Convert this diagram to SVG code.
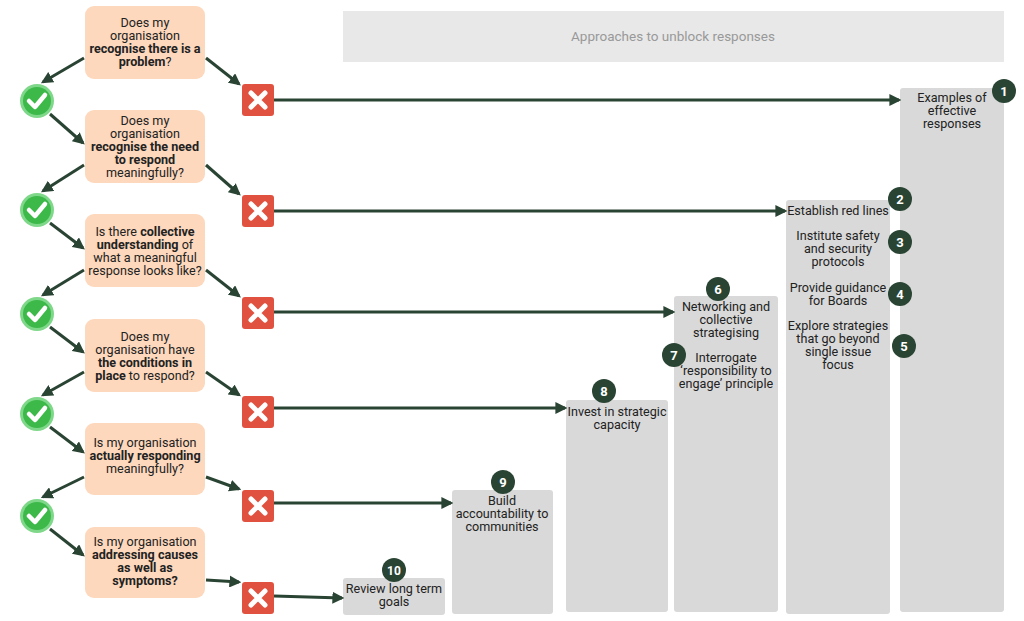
<svg xmlns="http://www.w3.org/2000/svg" width="1024" height="621" viewBox="0 0 1024 621">
<defs>
<marker id="ah" viewBox="0 0 10 10" refX="8" refY="5" markerWidth="4" markerHeight="4" orient="auto"><path d="M0,0L10,5L0,10z" fill="#2a4434"/></marker>
<g id="chk"><circle r="17" fill="#7fd88a"/><circle r="14" fill="#3cb949"/><path d="M-8,0L-2,6L8,-6" fill="none" stroke="#fff" stroke-width="4.5" stroke-linecap="round" stroke-linejoin="round"/></g>
<g id="crs"><rect x="-16" y="-16" width="32" height="32" rx="3" fill="#e0523f"/><path d="M-7,-7L7,7M7,-7L-7,7" stroke="#fff" stroke-width="5" stroke-linecap="round"/></g>
</defs>
<style>
text{font-family:Roboto,"Liberation Sans",sans-serif;font-size:12.6px;fill:#222;text-anchor:middle}
.q{fill:#fdd8bd}
.col{fill:#d9d9d9}
.b{font-weight:bold}
.bd circle{fill:#2a4434}
.bd text{fill:#fff;font-weight:bold;font-size:13px}
.c line{stroke:#2a4434;stroke-width:3;marker-end:url(#ah)}
</style>
<rect width="1024" height="621" fill="#fff"/>
<g id="header"><rect x="343" y="11" width="661" height="51" fill="#e8e8e8"/><text x="673" y="41" style="fill:#999;font-size:13.5px">Approaches to unblock responses</text></g>

<g id="col1"><rect class="col" x="900" y="88" width="104" height="524" rx="3"/><text x="952" y="102">Examples of</text><text x="952" y="115">effective</text><text x="952" y="128">responses</text></g>
<g id="col2"><rect class="col" x="786" y="200" width="104" height="414" rx="3"/><text x="838" y="215">Establish red lines</text><text x="838" y="240">Institute safety</text><text x="838" y="253">and security</text><text x="838" y="266">protocols</text><text x="838" y="292">Provide guidance</text><text x="838" y="305">for Boards</text><text x="838" y="330">Explore strategies</text><text x="838" y="343">that go beyond</text><text x="838" y="356">single issue</text><text x="838" y="369">focus</text></g>
<g id="col3"><rect class="col" x="674" y="296" width="104" height="316" rx="3"/><text x="726" y="311">Networking and</text><text x="726" y="324">collective</text><text x="726" y="337">strategising</text><text x="726" y="362">Interrogate</text><text x="726" y="375">‘responsibility to</text><text x="726" y="388">engage’ principle</text></g>
<g id="col4"><rect class="col" x="566" y="400" width="102" height="212" rx="3"/><text x="617" y="416">Invest in strategic</text><text x="617" y="429">capacity</text></g>
<g id="col5"><rect class="col" x="452" y="490" width="101" height="124" rx="3"/><text x="502" y="505">Build</text><text x="502" y="518">accountability to</text><text x="502" y="531">communities</text></g>
<g id="col6"><rect class="col" x="343" y="578" width="102" height="37" rx="3"/><text x="394" y="593">Review long term</text><text x="394" y="606">goals</text></g>

<g id="badges" class="bd">
<circle cx="1004" cy="91" r="12"/><text x="1004" y="96">1</text>
<circle cx="900" cy="199" r="12"/><text x="900" y="204">2</text>
<circle cx="900" cy="242" r="12"/><text x="900" y="247">3</text>
<circle cx="900" cy="294" r="12"/><text x="900" y="299">4</text>
<circle cx="904" cy="346" r="12"/><text x="904" y="351">5</text>
<circle cx="718" cy="289" r="12"/><text x="718" y="294">6</text>
<circle cx="674" cy="355" r="12"/><text x="674" y="360">7</text>
<circle cx="604" cy="391" r="12"/><text x="604" y="396">8</text>
<circle cx="503" cy="482" r="12"/><text x="503" y="487">9</text>
<circle cx="394" cy="570" r="12"/><text x="394" y="575" style="font-size:12px">10</text>
</g>

<g id="q1"><rect class="q" x="85" y="6" width="120" height="73" rx="9"/><text x="145" y="27">Does my</text><text x="145" y="40">organisation</text><text x="145" y="53" class="b">recognise there is a</text><text x="145" y="66"><tspan class="b">problem</tspan>?</text></g>
<g id="q2"><rect class="q" x="85" y="110" width="120" height="73" rx="9"/><text x="145" y="125">Does my</text><text x="145" y="138">organisation</text><text x="145" y="151" class="b">recognise the need</text><text x="145" y="164" class="b">to respond</text><text x="145" y="177">meaningfully?</text></g>
<g id="q3"><rect class="q" x="85" y="214" width="120" height="73" rx="9"/><text x="145" y="236">Is there <tspan class="b">collective</tspan></text><text x="145" y="249"><tspan class="b">understanding</tspan> of</text><text x="145" y="262">what a meaningful</text><text x="145" y="275">response looks like?</text></g>
<g id="q4"><rect class="q" x="85" y="319" width="120" height="73" rx="9"/><text x="145" y="341">Does my</text><text x="145" y="354">organisation have</text><text x="145" y="367" class="b">the conditions in</text><text x="145" y="380"><tspan class="b">place</tspan> to respond?</text></g>
<g id="q5"><rect class="q" x="85" y="423" width="120" height="72" rx="9"/><text x="145" y="447">Is my organisation</text><text x="145" y="460" class="b">actually responding</text><text x="145" y="473">meaningfully?</text></g>
<g id="q6"><rect class="q" x="85" y="527" width="120" height="71" rx="9"/><text x="145" y="546">Is my organisation</text><text x="145" y="559" class="b">addressing causes</text><text x="145" y="572" class="b">as well as</text><text x="145" y="585" class="b">symptoms?</text></g>

<g id="checks"><use href="#chk" x="37" y="101"/><use href="#chk" x="37" y="210"/><use href="#chk" x="37" y="314"/><use href="#chk" x="37" y="414"/><use href="#chk" x="37" y="516"/></g>
<g id="crosses"><use href="#crs" x="258" y="100"/><use href="#crs" x="258" y="211"/><use href="#crs" x="258" y="313"/><use href="#crs" x="258" y="412"/><use href="#crs" x="258" y="506"/><use href="#crs" x="258" y="598"/></g>

<g id="connectors" class="c">
<line x1="84" y1="58" x2="43" y2="82"/><line x1="206" y1="58" x2="239" y2="84"/>
<line x1="50" y1="114" x2="83" y2="143"/><line x1="84" y1="165" x2="43" y2="191"/><line x1="206" y1="165" x2="239" y2="194"/>
<line x1="50" y1="223" x2="83" y2="248"/><line x1="84" y1="270" x2="43" y2="295"/><line x1="206" y1="270" x2="239" y2="296"/>
<line x1="50" y1="327" x2="83" y2="352"/><line x1="84" y1="372" x2="43" y2="395"/><line x1="206" y1="372" x2="239" y2="395"/>
<line x1="50" y1="427" x2="83" y2="452"/><line x1="84" y1="477" x2="43" y2="497"/><line x1="206" y1="477" x2="239" y2="489"/>
<line x1="50" y1="529" x2="83" y2="555"/><line x1="206" y1="580" x2="239" y2="582"/>
<line x1="274" y1="100" x2="899" y2="100"/>
<line x1="274" y1="211" x2="785" y2="211"/>
<line x1="274" y1="312" x2="673" y2="312"/>
<line x1="274" y1="408" x2="565" y2="408"/>
<line x1="274" y1="503" x2="451" y2="503"/>
<line x1="274" y1="596" x2="342" y2="598"/>
</g>
</svg>
